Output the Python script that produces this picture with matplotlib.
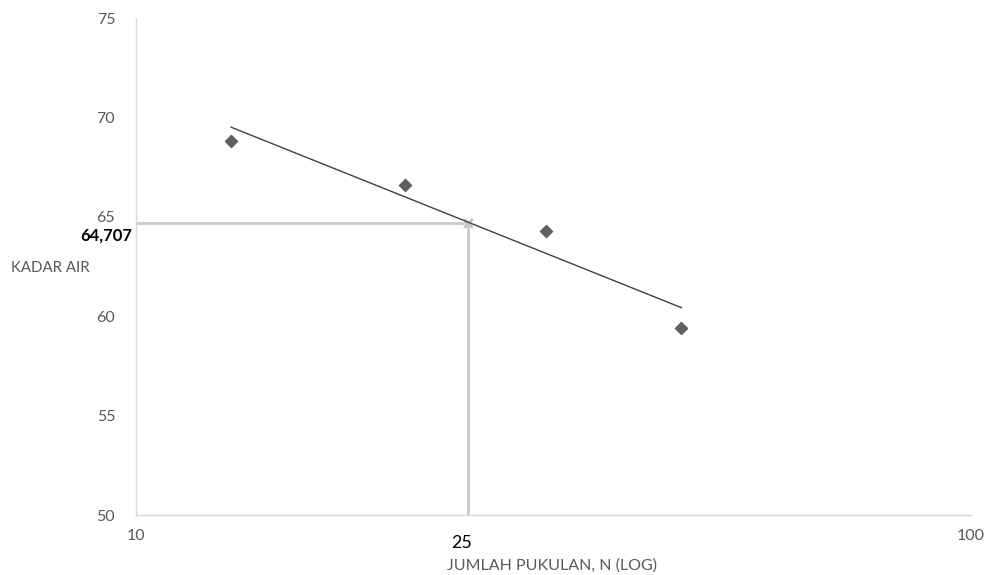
import matplotlib.pyplot as plt
import matplotlib.transforms as mtransforms
import numpy as np

# data
pukulan = [13, 21, 31, 45]
kadar_air = [68.8, 66.6, 64.3, 59.4]
n_target = 25
ka_target = 64.707

plt.rcParams['font.family'] = ['Lato', 'DejaVu Sans']

fig = plt.figure(figsize=(9.89, 5.75), dpi=100)
ax = fig.add_axes([0.1375, 0.1043, 0.8443, 0.8643])

# trendline (logarithmic, y = a*log10(x) + b)
a, b = np.polyfit(np.log10(pukulan), kadar_air, 1)
xt = np.array([min(pukulan), max(pukulan)])

# garis bantu di N = 25
ax.plot([n_target, n_target], [50, ka_target], color='#cacaca', lw=2, zorder=1)
ax.plot([10, n_target], [ka_target, ka_target], color='#cacaca', lw=2, zorder=1)
ax.scatter([n_target], [ka_target], marker='x', s=40, color='#c6c6c6', lw=2, zorder=2)

ax.plot(xt, a * np.log10(xt) + b, color='#404040', lw=1, zorder=3)
ax.scatter(pukulan, kadar_air, marker='D', s=38, color='#5f5f5f', zorder=4)

ax.set_xscale('log')
ax.set_xlim(10, 100)
ax.set_ylim(50, 75)
ax.set_xticks([10, 100])
ax.set_xticklabels(['10', '100'])
ax.xaxis.set_minor_locator(plt.NullLocator())
ax.set_yticks([50, 55, 60, 65, 70, 75])

for s in ['top', 'right']:
    ax.spines[s].set_visible(False)
for s in ['left', 'bottom']:
    ax.spines[s].set_color('#d9d9d9')
    ax.spines[s].set_linewidth(1)
ax.tick_params(length=0, labelsize=11.5, labelcolor='#595959')
ax.tick_params(axis='x', pad=10)
ax.tick_params(axis='y', pad=15)

# label 25 dan 64,707
off = mtransforms.offset_copy(ax.transData, fig=fig, x=-5, y=0, units='points')
ax.text(n_target, 49.0, '25', ha='center', va='top', fontsize=13, color='black', transform=off)
off_y = mtransforms.offset_copy(ax.get_yaxis_transform(), fig=fig, x=-3, y=-9, units='points')
ax.text(0, ka_target, '{:.3f}'.format(ka_target).replace('.', ','), ha='right', va='center',
        fontsize=12, fontweight='bold', color='black', transform=off_y)

fig.text(11 / 989, 1 - 268 / 575, 'KADAR AIR', ha='left', va='center', fontsize=10.8, color='#595959')
fig.text(552 / 989, 1 - 566 / 575, 'JUMLAH PUKULAN, N (LOG)', ha='center', va='center',
         fontsize=11.5, color='#595959')

fig.savefig('out.png', dpi=100)
